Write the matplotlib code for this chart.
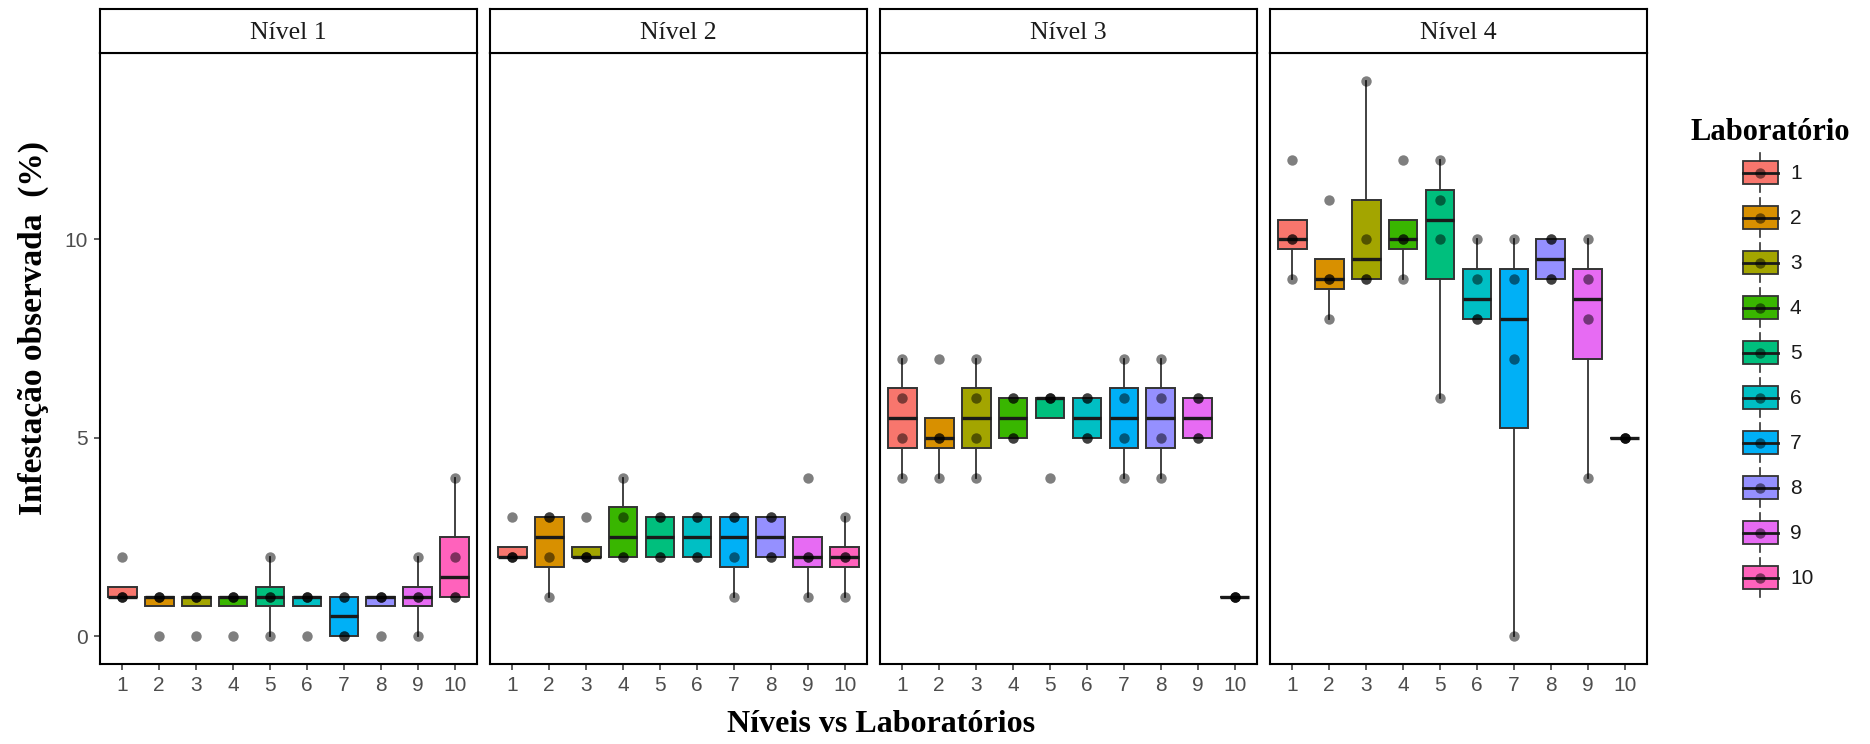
import matplotlib
matplotlib.use("Agg")
import matplotlib.pyplot as plt
from matplotlib.patches import Rectangle, Patch
from matplotlib.lines import Line2D
from matplotlib.legend_handler import HandlerBase

# ---------------- data ----------------
labs = [1, 2, 3, 4, 5, 6, 7, 8, 9, 10]
level_names = ["Nível 1", "Nível 2", "Nível 3", "Nível 4"]

nivel1 = [[1, 1, 1, 2], [0, 1, 1, 1], [0, 1, 1, 1], [0, 1, 1, 1], [0, 1, 1, 2],
          [0, 1, 1, 1], [0, 0, 1, 1], [0, 1, 1, 1], [0, 1, 1, 2], [1, 1, 2, 4]]
nivel2 = [[2, 2, 2, 3], [1, 2, 3, 3], [2, 2, 2, 3], [2, 2, 3, 4], [2, 2, 3, 3],
          [2, 2, 3, 3], [1, 2, 3, 3], [2, 2, 3, 3], [1, 2, 2, 4], [1, 2, 2, 3]]
nivel3 = [[4, 5, 6, 7], [4, 5, 5, 7], [4, 5, 6, 7], [5, 5, 6, 6], [4, 6, 6, 6],
          [5, 5, 6, 6], [4, 5, 6, 7], [4, 5, 6, 7], [5, 5, 6, 6], [1, 1, 1, 1]]
nivel4 = [[9, 10, 10, 12], [8, 9, 9, 11], [9, 9, 10, 14], [9, 10, 10, 12], [6, 10, 11, 12],
          [8, 8, 9, 10], [0, 7, 9, 10], [9, 9, 10, 10], [4, 8, 9, 10], [5, 5, 5, 5]]
levels = [nivel1, nivel2, nivel3, nivel4]

lab_colors = ["#F8766D", "#D89000", "#A3A500", "#39B600", "#00BF7D",
              "#00BFC4", "#00B0F6", "#9590FF", "#E76BF3", "#FF62BC"]
y_ticks = [0, 5, 10]

# ---------------- style ----------------
SERIF = ["Liberation Serif", "DejaVu Serif"]
SANS = ["Liberation Sans", "DejaVu Sans"]
plt.rcParams["font.family"] = SANS

W, H = 1870, 744
fig = plt.figure(figsize=(W / 100, H / 100), dpi=100)

panel_lefts = [100, 490, 880, 1270]
panel_w = 377
panel_top = 53
panel_bot = 664
strip_top = 9

edge = "#333333"
for k, (name, data) in enumerate(zip(level_names, levels)):
    left = panel_lefts[k] / W
    ax = fig.add_axes([left, 1 - panel_bot / H, panel_w / W, (panel_bot - panel_top) / H])
    bp = ax.boxplot(data, positions=labs, widths=0.78, patch_artist=True,
                    showfliers=False, showcaps=False, whis=1.5,
                    boxprops=dict(edgecolor=edge, linewidth=1.4),
                    medianprops=dict(color="#1a1a1a", linewidth=2.4),
                    whiskerprops=dict(color=edge, linewidth=1.3))
    for patch, c in zip(bp["boxes"], lab_colors):
        patch.set_facecolor(c)
    for lab, vals in zip(labs, data):
        ax.plot([lab] * len(vals), vals, "o", color="black", alpha=0.5,
                markersize=7.5, markeredgewidth=0, zorder=5)
    ax.set_xlim(0.4, 10.6)
    ax.set_ylim(-0.7, 14.7)
    ax.set_xticks(labs)
    ax.set_xticklabels([str(l) for l in labs])
    ax.set_yticks(y_ticks)
    ax.tick_params(axis="both", colors=edge, labelcolor="#4d4d4d",
                   labelsize=15, length=4, width=1.1, pad=4.5)
    if k > 0:
        ax.tick_params(axis="y", left=False, labelleft=False)
    for sp in ax.spines.values():
        sp.set_color("black")
        sp.set_linewidth(1.5)
    # strip
    sax = fig.add_axes([left, 1 - panel_top / H, panel_w / W, (panel_top - strip_top) / H])
    sax.set_xticks([])
    sax.set_yticks([])
    sax.set_facecolor("white")
    for sp in sax.spines.values():
        sp.set_color("black")
        sp.set_linewidth(1.5)
    sax.text(0.5, 0.45, name, ha="center", va="center", fontsize=18.5,
             family=SERIF, color="#1a1a1a", transform=sax.transAxes)

fig.text(33 / W, 1 - 328 / H, "Infestação observada  (%)", rotation=90,
         ha="center", va="center", fontsize=24, fontweight="bold", family=SERIF)
fig.text(881 / W, 1 - 724 / H, "Níveis vs Laboratórios", ha="center", va="center",
         fontsize=23, fontweight="bold", family=SERIF)


# ---------------- legend ----------------
class BoxHandler(HandlerBase):
    def create_artists(self, legend, orig_handle, xdescent, ydescent, width, height,
                       fontsize, trans):
        c = orig_handle.get_facecolor()
        x0, y0 = -xdescent, -ydescent
        bw = width * 0.40
        bx = x0 + width - bw
        bh = height * 0.59
        by = y0 + (height - bh) / 2
        xm = bx + bw / 2
        ym = y0 + height / 2
        rect = Rectangle((bx, by), bw, bh, facecolor=c, edgecolor=edge, lw=1.3,
                         transform=trans)
        wt = Line2D([xm, xm], [by + bh, y0 + height], color=edge, lw=1.2, transform=trans)
        wb = Line2D([xm, xm], [y0, by], color=edge, lw=1.2, transform=trans)
        med = Line2D([bx, bx + bw], [ym, ym], color="#1a1a1a", lw=2.0, transform=trans)
        dot = Line2D([xm], [ym], marker="o", markersize=7.5, color="black", alpha=0.5,
                     markeredgewidth=0, linestyle="none", transform=trans)
        return [rect, wt, wb, med, dot]


handles = [Patch(facecolor=c) for c in lab_colors]
leg = fig.legend(handles, [str(l) for l in labs], handler_map={Patch: BoxHandler()},
                 loc="upper left", bbox_to_anchor=(1682 / W, 1 - 110 / H),
                 frameon=False, fontsize=15, title="Laboratório",
                 handlelength=4.2, handleheight=2.5, labelspacing=0.29,
                 handletextpad=0.58, borderaxespad=0, alignment="left")
leg.get_title().set_fontfamily(SERIF)
leg.get_title().set_fontweight("bold")
leg.get_title().set_fontsize(22)
for t in leg.get_texts():
    t.set_color("#1a1a1a")

fig.savefig("out.png", dpi=100)
